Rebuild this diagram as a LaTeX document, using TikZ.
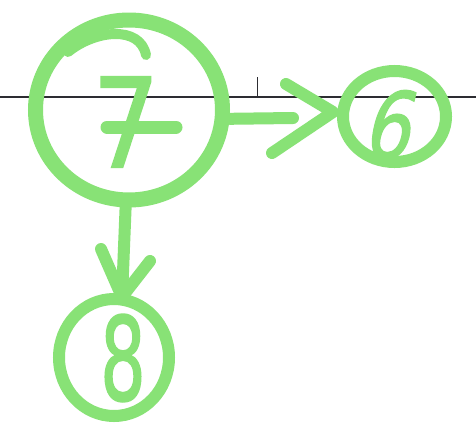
\documentclass[tikz,border=0pt]{standalone}
\usepackage{fontspec}
\setmainfont{DejaVu Sans}
\newfontfamily\markerfont[FakeBold=1.5]{DejaVu Sans}
\newfontfamily\markerslant[FakeBold=1.5,FakeSlant=0.3]{DejaVu Sans}
\usetikzlibrary{shapes.geometric}
\definecolor{marker}{RGB}{136,226,118}
\definecolor{rule}{RGB}{45,45,50}
\tikzset{
  pen/.style={draw=marker, line width=#1, line cap=round, line join=round},
  pen/.default=12pt,
  ring/.style={ellipse, draw=marker, inner sep=0pt, line width=#1},
  digit/.style={text=marker, inner sep=0pt, font=\markerfont\fontsize{#1}{#1}\selectfont}
}
\begin{document}
\begin{tikzpicture}[x=1pt, y=-1pt]
\useasboundingbox (0,0) rectangle (476,429);
\fill[white] (0,0) rectangle (476,429);
% ruled line and tick
\coordinate (L0) at (0,97);
\coordinate (L1) at (476,97);
\coordinate (T0) at (257.5,77);
\coordinate (T1) at (257.5,97);
\draw[rule, line width=1.3pt] (L0) -- (L1);
\draw[rule, line width=1pt] (T0) -- (T1);
% circles
\node[ring=15pt, minimum width=187pt, minimum height=180pt] (n7) at (129,110) {};
\node[ring=12pt, minimum width=103pt, minimum height=91pt] (n6) at (394.5,116.5) {};
\node[ring=12pt, minimum width=110pt, minimum height=117pt] (n8) at (114,357.5) {};
% pen start curl inside big circle
\coordinate (c0) at (68,52);
\coordinate (c1) at (146,55);
\draw[pen=10pt] (c0) .. controls (95,30) and (140,25) .. (c1);
% digits
\node[digit=124] (d7) at (126,122) {\scalebox{0.85}[1]{7}};
\coordinate (x0) at (107,127);
\coordinate (x1) at (176,127);
\draw[pen=13pt] (x0) -- (x1);
\node[digit=92] (d6) at (385,125) {\markerslant\scalebox{0.8}[1]{6}};
\node[digit=116] (d8) at (123,358) {\scalebox{0.62}[1]{8}};
% arrow 7 -> 6
\coordinate (a1) at (293,118);
\coordinate (u1) at (286,84);
\coordinate (t1) at (333,112);
\coordinate (l1) at (272,153);
\draw[pen] (n7.-5) -- (a1);
\draw[pen] (u1) -- (t1) -- (l1);
% arrow 7 -> 8
\coordinate (t2) at (122,297);
\coordinate (u2) at (101,249);
\coordinate (l2) at (150,261);
\draw[pen] (n7.-92) -- (t2);
\draw[pen] (u2) -- (t2) -- (l2);
\end{tikzpicture}
\end{document}
